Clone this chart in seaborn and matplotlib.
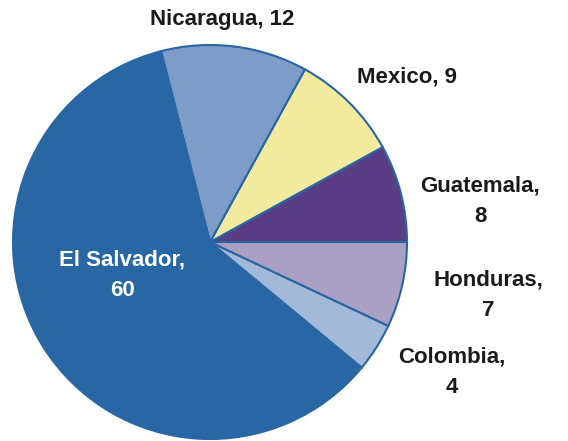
import matplotlib
matplotlib.use("Agg")
import matplotlib.pyplot as plt
import seaborn as sns

sns.set_theme(style="white")
plt.rcParams['font.family'] = ['Liberation Sans', 'DejaVu Sans']

countries = ["Guatemala", "Mexico", "Nicaragua", "El Salvador", "Colombia", "Honduras"]
values = [8, 9, 12, 60, 4, 7]
colors = ["#5a3d85", "#f2eb9f", "#7d9dc8", "#2866a4", "#a2b9d8", "#a9a0c3"]
edge_color = "#2866a4"

fig = plt.figure(figsize=(5.68, 4.41), dpi=100)
ax = fig.add_axes([0, 0, 1, 1])
ax.pie(values, colors=colors, startangle=0, counterclock=True, radius=1.0,
       wedgeprops=dict(edgecolor=edge_color, linewidth=1.5))
ax.set_aspect('auto')
s = 197.0
cx, cy = 210.0, 242.0
ax.set_xlim(-cx / s, (568 - cx) / s)
ax.set_ylim(-(441 - cy) / s, cy / s)
ax.axis('off')

def px(x, y):
    return (x - cx) / s, (cy - y) / s

labels = {
    "Nicaragua": ((222, 20), f"Nicaragua, {values[2]}", "#1a1a1a"),
    "Mexico": ((407, 77), f"Mexico, {values[1]}", "#1a1a1a"),
    "Guatemala": ((480, 201), f"Guatemala,\n{values[0]}", "#1a1a1a"),
    "Honduras": ((488, 295), f"Honduras,\n{values[5]}", "#1a1a1a"),
    "Colombia": ((452, 372), f"Colombia,\n{values[4]}", "#1a1a1a"),
    "El Salvador": ((122, 275), f"El Salvador,\n{values[3]}", "white"),
}
for k, ((x, y), t, c) in labels.items():
    X, Y = px(x, y)
    ax.text(X, Y, t, ha='center', va='center', fontsize=16, fontweight='bold',
            color=c, linespacing=1.6)

fig.savefig("out.png", dpi=100)
